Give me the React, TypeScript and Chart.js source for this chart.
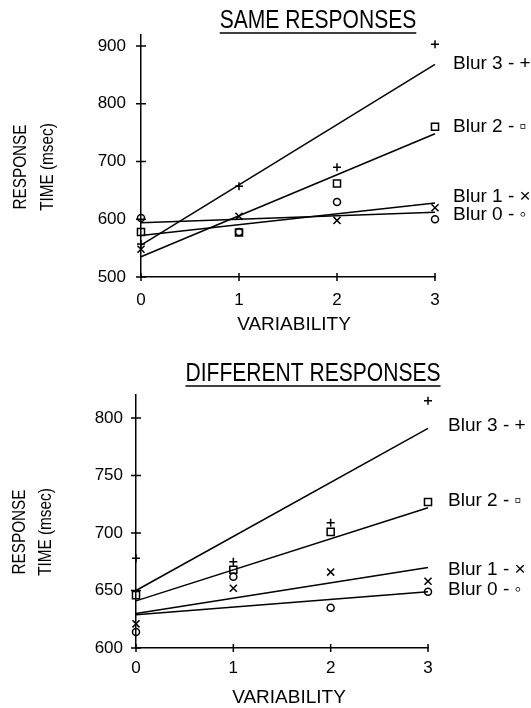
import React, { useEffect, useRef } from 'react';
import { Chart, registerables } from 'chart.js';

Chart.register(...registerables);

// ---------- data ----------
const variability = [0, 1, 2, 3];
const fitRange = [0, 3];
const seriesNames = ['Blur 0', 'Blur 1', 'Blur 2', 'Blur 3'];
const legendSymbols = ['\u25E6', '\u00D7', '\u25AB', '+'];

const sameTicks = [500, 600, 700, 800, 900];
const sameBlur0 = [602, 578, 630, 600];
const sameBlur1 = [548, 605, 598, 620];
const sameBlur2 = [578, 577, 662, 760];
const sameBlur3 = [557, 657, 690, 903];
const sameFit0 = [594, 612];
const sameFit1 = [572, 628];
const sameFit2 = [535, 748];
const sameFit3 = [555, 868];

const diffTicks = [600, 650, 700, 750, 800];
const diffBlur0 = [614, 662, 635, 649];
const diffBlur1 = [621, 652, 666, 658];
const diffBlur2 = [646, 668, 701, 727];
const diffBlur3 = [678, 675, 709, 815];
const diffFit0 = [629, 649];
const diffFit1 = [630, 670];
const diffFit2 = [641, 722];
const diffFit3 = [650, 791];

// ---------- styles ----------
const pointStyles = ['circle', 'crossRot', 'rect', 'cross'];
const pointRadii = [3.5, 5, 5, 4];
const FONT_REG = '"Liberation Sans", "DejaVu Sans", sans-serif';

type Spec = {
  top: number;
  height: number;
  title: string;
  titleX: number;
  titleY: number;
  underlineY: number;
  yTicks: number[];
  yMin: number;
  yMax: number;
  blurs: number[][];
  fits: number[][];
  legendDy: number[];
  legendDx: number;
  yTitleX: number[];
  yTitleY: number;
  xTitleX: number;
  xTitleY: number;
  padding: { top: number; right: number; bottom: number; left: number };
  yWidth: number;
  yPad: number;
  xPad: number;
};

const sameSpec: Spec = {
  top: 0,
  height: 345,
  title: 'SAME RESPONSES',
  titleX: 318,
  titleY: 21,
  underlineY: 33,
  yTicks: sameTicks,
  yMin: 500,
  yMax: 919,
  blurs: [sameBlur0, sameBlur1, sameBlur2, sameBlur3],
  fits: [sameFit0, sameFit1, sameFit2, sameFit3],
  legendDy: [2, -6, -7, -1],
  legendDx: 18,
  yTitleX: [21, 48],
  yTitleY: 167,
  xTitleX: 294,
  xTitleY: 325,
  padding: { top: 35, right: 96, bottom: 38, left: 0 },
  yWidth: 141,
  yPad: 15,
  xPad: 13,
};

const diffSpec: Spec = {
  top: 345,
  height: 363,
  title: 'DIFFERENT RESPONSES',
  titleX: 313,
  titleY: 29,
  underlineY: 41,
  yTicks: diffTicks,
  yMin: 600,
  yMax: 820,
  blurs: [diffBlur0, diffBlur1, diffBlur2, diffBlur3],
  fits: [diffFit0, diffFit1, diffFit2, diffFit3],
  legendDy: [-2, 2, -7, -3],
  legendDx: 20,
  yTitleX: [20, 46],
  yTitleY: 187,
  xTitleX: 289,
  xTitleY: 353,
  padding: { top: 50, right: 103, bottom: 30, left: 0 },
  yWidth: 136,
  yPad: 13,
  xPad: 10,
};

function makeDecor(spec: Spec) {
  return {
    id: 'decor',
    afterDraw(chart: any) {
      const { ctx, chartArea, scales } = chart;
      const xs = scales.x;
      const ys = scales.y;
      ctx.save();
      ctx.strokeStyle = '#000';
      ctx.fillStyle = '#000';
      ctx.lineWidth = 1.5;
      // cross tick marks
      ctx.beginPath();
      for (const v of spec.yTicks) {
        const p = ys.getPixelForValue(v);
        ctx.moveTo(chartArea.left - 5, p);
        ctx.lineTo(chartArea.left + 5, p);
      }
      for (const v of variability) {
        const p = xs.getPixelForValue(v);
        ctx.moveTo(p, chartArea.bottom - 4);
        ctx.lineTo(p, chartArea.bottom + 4);
      }
      ctx.stroke();

      // title with underline (horizontally condensed)
      ctx.font = `26px ${FONT_REG}`;
      ctx.textAlign = 'center';
      ctx.textBaseline = 'middle';
      const hs = 0.81;
      ctx.save();
      ctx.translate(spec.titleX, spec.titleY);
      ctx.scale(hs, 1);
      ctx.fillText(spec.title, 0, 0);
      ctx.restore();
      const w = ctx.measureText(spec.title).width * hs;
      ctx.beginPath();
      ctx.moveTo(spec.titleX - w / 2, spec.underlineY);
      ctx.lineTo(spec.titleX + w / 2, spec.underlineY);
      ctx.stroke();

      // x title
      ctx.font = `19px ${FONT_REG}`;
      ctx.fillText('VARIABILITY', spec.xTitleX, spec.xTitleY);

      // y title (two rotated lines)
      ctx.font = `18px ${FONT_REG}`;
      const yLines = ['RESPONSE', 'TIME (msec)'];
      yLines.forEach((t, i) => {
        ctx.save();
        ctx.translate(spec.yTitleX[i], spec.yTitleY);
        ctx.rotate(-Math.PI / 2);
        ctx.scale(0.85, 1);
        ctx.fillText(t, 0, 0);
        ctx.restore();
      });

      // series labels at line ends
      ctx.font = `19px ${FONT_REG}`;
      ctx.textAlign = 'left';
      seriesNames.forEach((name, i) => {
        const y = ys.getPixelForValue(spec.fits[i][1]) + spec.legendDy[i];
        ctx.fillText(`${name} - ${legendSymbols[i]}`, chartArea.right + spec.legendDx, y);
      });
      ctx.restore();
    },
  };
}

function buildConfig(spec: Spec): any {
  const datasets: any[] = [];
  seriesNames.forEach((name, i) => {
    datasets.push({
      label: `${name} fit`,
      data: fitRange.map((x, k) => ({ x, y: spec.fits[i][k] })),
      showLine: true,
      pointRadius: 0,
      borderColor: '#000',
      borderWidth: 1.5,
      fill: false,
      clip: false,
    });
    datasets.push({
      label: name,
      data: variability.map((x, k) => ({ x, y: spec.blurs[i][k] })),
      showLine: false,
      pointStyle: pointStyles[i],
      pointRadius: pointRadii[i],
      pointBorderColor: '#000',
      pointBackgroundColor: 'transparent',
      pointBorderWidth: 1.5,
      borderColor: '#000',
      clip: false,
    });
  });
  return {
    type: 'scatter',
    data: { datasets },
    options: {
      responsive: false,
      animation: false,
      events: [],
      layout: { padding: spec.padding, autoPadding: false },
      plugins: {
        legend: { display: false },
        tooltip: { enabled: false },
        title: { display: false },
      },
      scales: {
        x: {
          type: 'linear',
          min: 0,
          max: 3,
          grid: { display: false, drawTicks: false },
          border: { display: true, color: '#000', width: 1.5 },
          ticks: {
            color: '#000',
            font: { family: FONT_REG, size: 17 },
            padding: spec.xPad,
            callback: (v: any) => String(v),
          },
          afterBuildTicks: (s: any) => {
            s.ticks = variability.map((v) => ({ value: v }));
          },
          afterFit: (s: any) => {
            s.height = 30;
          },
        },
        y: {
          type: 'linear',
          min: spec.yMin,
          max: spec.yMax,
          grid: { display: false, drawTicks: false },
          border: { display: true, color: '#000', width: 1.5 },
          ticks: {
            color: '#000',
            font: { family: FONT_REG, size: 17 },
            padding: spec.yPad,
            callback: (v: any) => String(v),
          },
          afterBuildTicks: (s: any) => {
            s.ticks = spec.yTicks.map((v) => ({ value: v }));
          },
          afterFit: (s: any) => {
            s.width = spec.yWidth;
          },
        },
      },
    },
    plugins: [makeDecor(spec)],
  };
}

function Panel({ spec }: { spec: Spec }) {
  const ref = useRef<HTMLCanvasElement | null>(null);
  useEffect(() => {
    if (!ref.current) return;
    const chart = new Chart(ref.current, buildConfig(spec));
    return () => chart.destroy();
  }, [spec]);
  return (
    <canvas
      ref={ref}
      width={531}
      height={spec.height}
      style={{ position: 'absolute', left: 0, top: spec.top, width: 531, height: spec.height }}
    />
  );
}

export default function App() {
  return (
    <div
      style={{
        position: 'absolute',
        left: 0,
        top: 0,
        width: 531,
        height: 708,
        background: '#fff',
        overflow: 'hidden',
      }}
    >
      <Panel spec={sameSpec} />
      <Panel spec={diffSpec} />
    </div>
  );
}
